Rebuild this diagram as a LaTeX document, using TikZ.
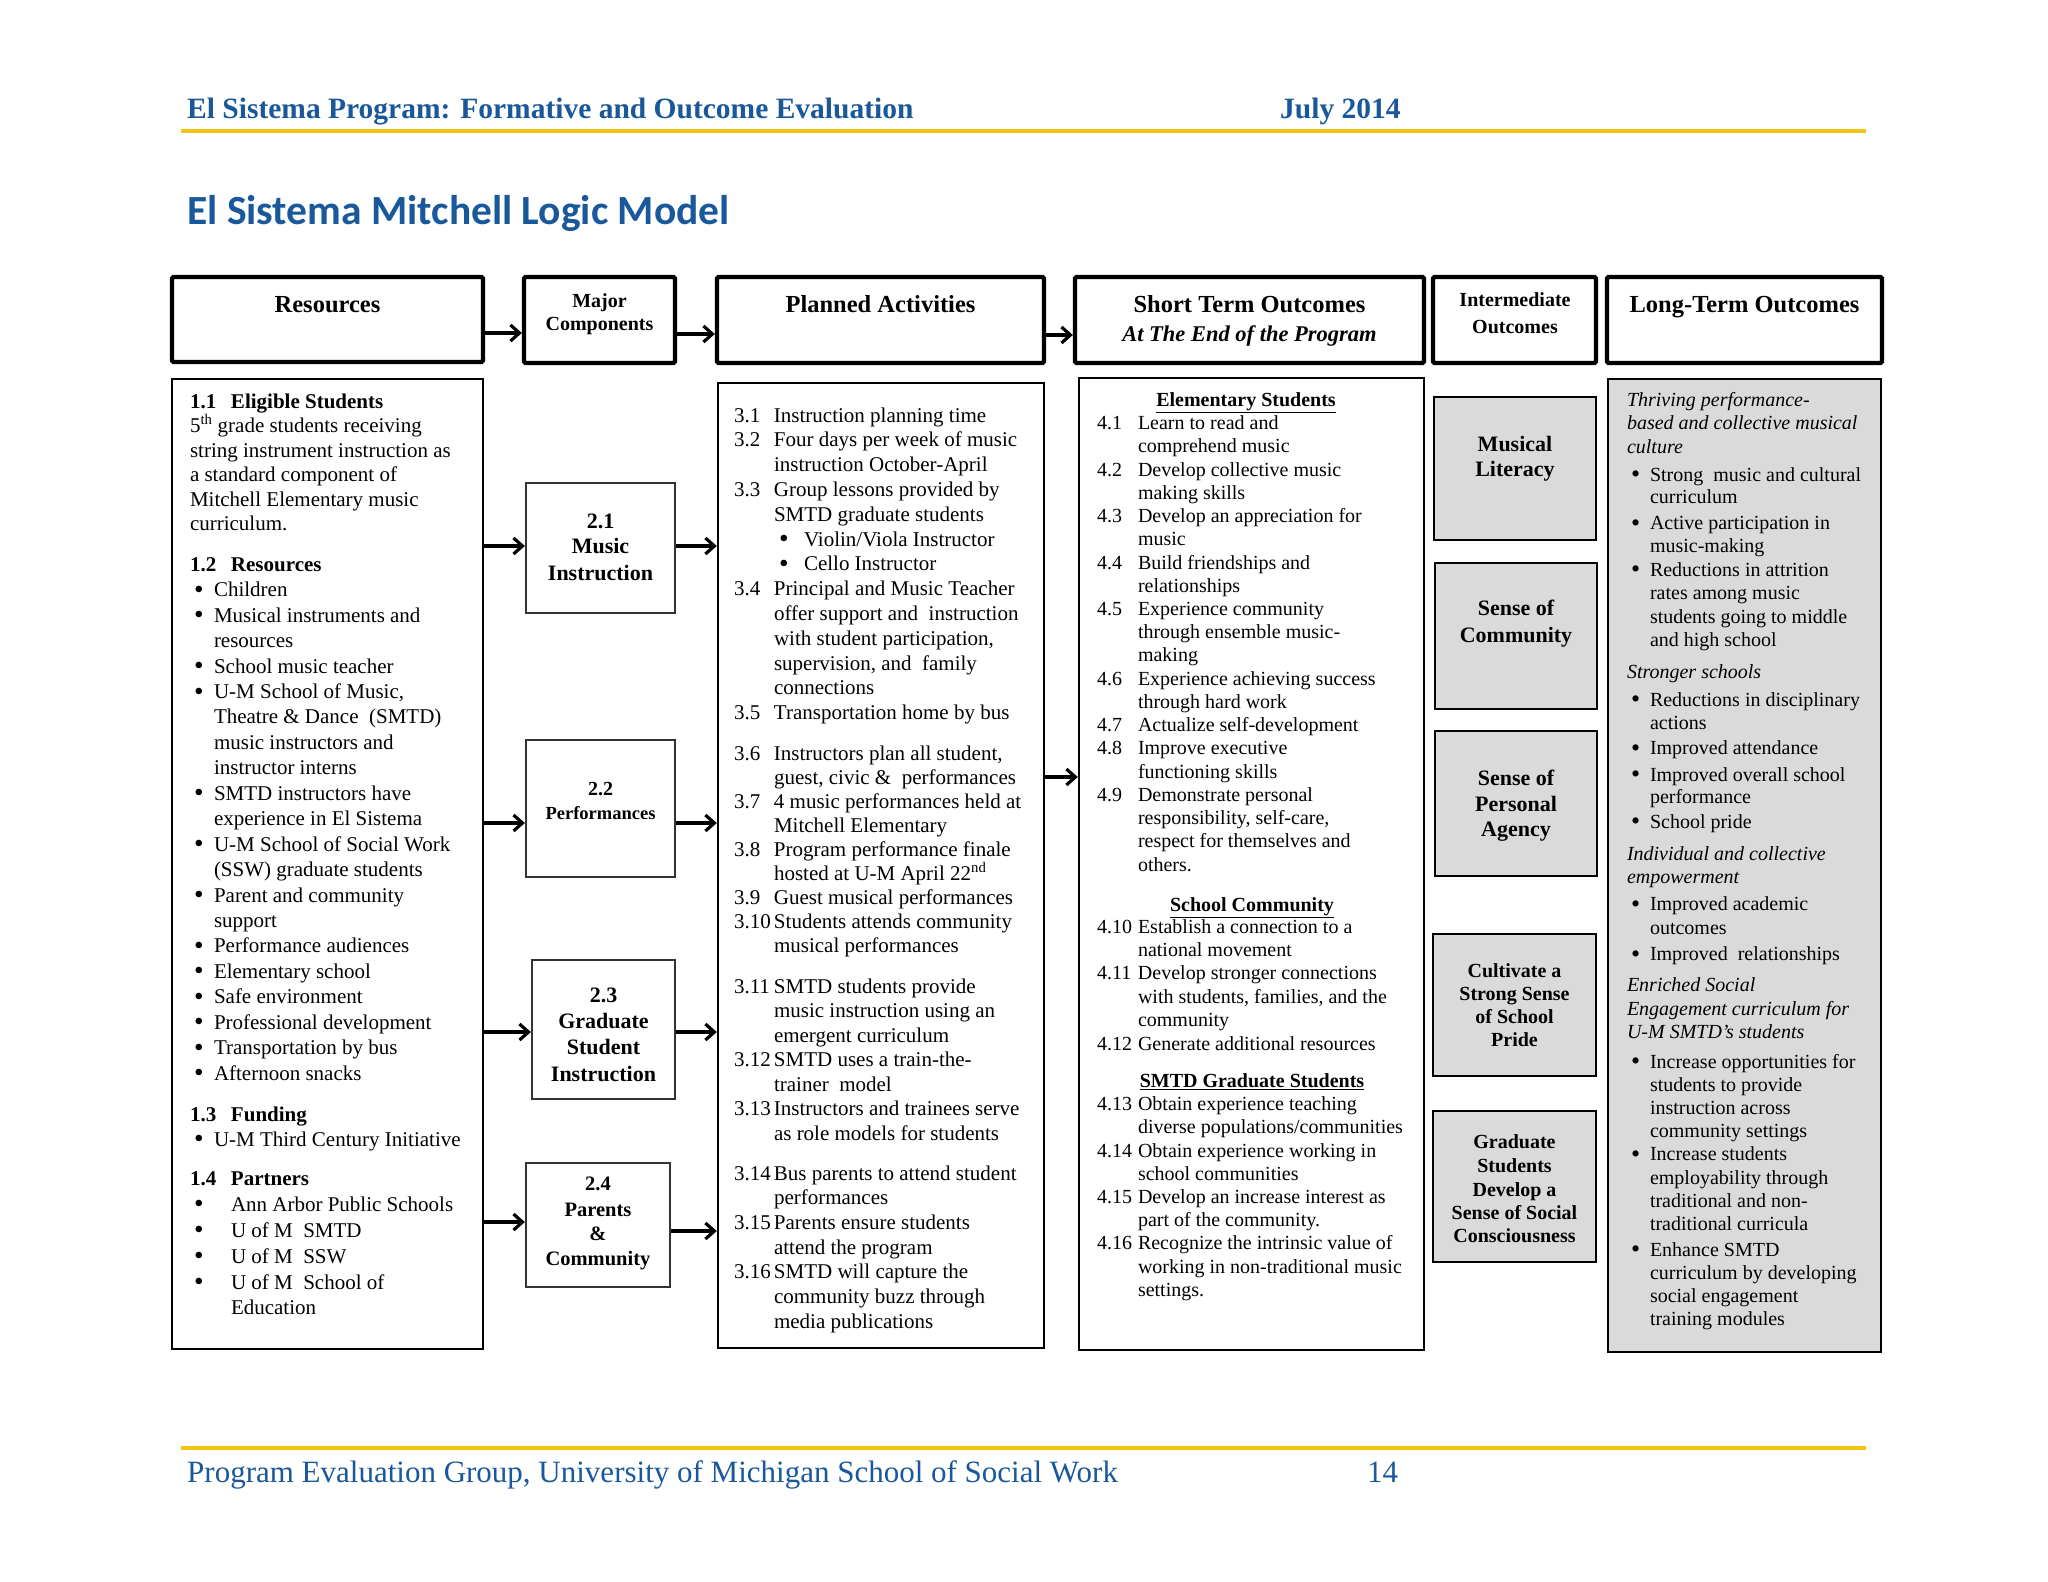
\documentclass[tikz,border=0pt]{standalone}
\usepackage{fontspec}
\setmainfont{Liberation Serif}
\newfontfamily\titlefont{Carlito}
\usetikzlibrary{arrows.meta}
\definecolor{hblue}{RGB}{25,88,155}
\definecolor{gold}{RGB}{243,196,18}
\definecolor{boxgray}{RGB}{218,218,218}
\newcounter{lnc}
\newcommand\fs[2]{\fontsize{#1}{#2}\selectfont}
\newcommand\bul[1]{\makebox[#1pt][l]{\raisebox{-0.08em}{\scalebox{1.3}{\textbullet}}}}
\newcommand\nm[2]{\makebox[#1pt][l]{#2}}
\newcommand\curf{}
\newcommand\tln[3]{\stepcounter{lnc}\node[txt] (ln\arabic{lnc}) at (#1,#2) {#3};}
\newcommand\tlc[3]{\stepcounter{lnc}\node[txtc] (ln\arabic{lnc}) at (#1,#2) {#3};}
\newcommand\rbox[6][]{\node[#1, minimum width={#5pt-#3pt}, minimum height={#6pt-#4pt}] (#2) at ({(#3+#5)/2},{(#4+#6)/2}) {};}
\tikzset{
 txt/.style={anchor=base west, inner sep=0pt, outer sep=0pt, font=\curf},
 txtc/.style={anchor=base, inner sep=0pt, outer sep=0pt, font=\curf},
 headbox/.style={draw, line width=4.3pt, rounded corners=1.5pt, inner sep=0pt},
 bodybox/.style={draw, line width=2.4pt, inner sep=0pt},
 compbox/.style={draw=black!80, line width=2.2pt, inner sep=0pt},
 graybox/.style={draw, fill=boxgray, line width=2.6pt, inner sep=0pt},
 longbox/.style={draw, fill=boxgray, line width=2.7pt, inner sep=0pt},
 arr/.style={line width=3.2pt, -{Straight Barb[length=9pt,width=16pt]}},
 goldrule/.style={draw=gold, line width=4pt},
}
\begin{document}
\begin{tikzpicture}[x=1pt,y=-1pt]
\useasboundingbox (0,0) rectangle (2048,1582);
\fill[white] (0,0) rectangle (2048,1582);
% page header and footer
\node[anchor=base west, inner sep=0pt, font=\fs{29.5}{34}\bfseries, text=hblue] (pghead) at (187,118) {El Sistema Program: Formative and Outcome Evaluation};
\node[anchor=base west, inner sep=0pt, font=\fs{29.5}{34}\bfseries, text=hblue] (pgdate) at (1280,118) {July 2014};
\path[goldrule] (181,131) -- (1866,131);
\node[anchor=base west, inner sep=0pt, font=\titlefont\bfseries\fs{41.5}{48}, text=hblue] (title) at (187,224) {El Sistema Mitchell Logic Model};
\path[goldrule] (181,1448) -- (1866,1448);
\node[anchor=base west, inner sep=0pt, font=\fs{31}{36}, text=hblue] (foot) at (187,1482) {Program Evaluation Group, University of Michigan School of Social Work};
\node[anchor=base west, inner sep=0pt, font=\fs{31}{36}, text=hblue] (pgnum) at (1367,1482) {14};

% header boxes
\rbox[headbox]{rh}{172}{277}{483}{362}
\rbox[headbox]{mh}{524}{277}{675}{363}
\rbox[headbox]{ph}{717}{277}{1044}{363}
\rbox[headbox]{sh}{1075}{277}{1424}{363}
\rbox[headbox]{ih}{1433}{277}{1596}{363}
\rbox[headbox]{lh}{1607}{277}{1882}{363}
% body boxes
\rbox[bodybox]{rb}{172}{379}{483}{1349}
\rbox[bodybox]{pb}{718}{383}{1044}{1348}
\rbox[bodybox]{sb}{1079}{378}{1424}{1350}
\rbox[longbox]{lb}{1608}{379}{1881}{1352}
\rbox[compbox]{c21}{526}{483}{675}{613}
\rbox[compbox]{c22}{526}{740}{675}{877}
\rbox[compbox]{c23}{532}{960}{675}{1099}
\rbox[compbox]{c24}{526}{1163}{670}{1287}
\rbox[graybox]{i1}{1434}{397}{1596}{540}
\rbox[graybox]{i2}{1435}{563}{1597}{709}
\rbox[graybox]{i3}{1435}{731}{1597}{876}
\rbox[graybox]{i4}{1433}{934}{1596}{1076}
\rbox[graybox]{i5}{1433}{1111}{1596}{1262}

% arrows
\coordinate (h1) at ([yshift=-13.5pt]rh.east);
\draw[arr] (h1) -- (mh.west |- h1);
\coordinate (h2) at ([yshift=-14pt]mh.east);
\draw[arr] (h2) -- (ph.west |- h2);
\coordinate (h3) at ([yshift=-15pt]ph.east);
\draw[arr] (h3) -- (sh.west |- h3);
\coordinate (a21) at ([yshift=2pt]c21.west);
\draw[arr] (rb.east |- a21) -- (a21);
\draw[arr] (c21.east |- a21) -- (pb.west |- a21);
\coordinate (a22) at ([yshift=-14.5pt]c22.west);
\draw[arr] (rb.east |- a22) -- (a22);
\draw[arr] (c22.east |- a22) -- (pb.west |- a22);
\coordinate (a23) at ([yshift=-2.5pt]c23.west);
\draw[arr] (rb.east |- a23) -- (a23);
\draw[arr] (c23.east |- a23) -- (pb.west |- a23);
\coordinate (a24) at ([yshift=3pt]c24.west);
\draw[arr] (rb.east |- a24) -- (a24);
\coordinate (b24) at ([yshift=-6pt]c24.east);
\draw[arr] (b24) -- (pb.west |- b24);
\coordinate (a3) at ([yshift=88.5pt]pb.east);
\draw[arr] (a3) -- (sb.west |- a3);

% header texts
\renewcommand\curf{\fs{24.5}{28}\bfseries}
\tlc{327.5}{312}{Resources}
\tlc{880.5}{312}{Planned Activities}
\tlc{1249.5}{312}{Short Term Outcomes}
\tlc{1249.5}{341.5}{\fs{22.5}{26}\itshape At The End of the Program}
\tlc{1744.5}{312}{Long-Term Outcomes}
\renewcommand\curf{\fs{20}{23}\bfseries}
\tlc{599.5}{307.7}{Major}
\tlc{599.5}{330.7}{Components}
\tlc{1515}{306}{Intermediate}
\tlc{1515}{333}{Outcomes}

% Resources column
\renewcommand\curf{\fs{21}{25}}
\tln{190}{408}{\textbf{\nm{41}{1.1}Eligible Students}}
\tln{190}{432.5}{5\textsuperscript{th} grade students receiving}
\tln{190}{457}{string instrument instruction as}
\tln{190}{481.5}{a standard component of}
\tln{190}{506}{Mitchell Elementary music}
\tln{190}{530.5}{curriculum.}
\tln{190}{571}{\textbf{\nm{41}{1.2}Resources}}
\tln{194}{596.7}{\bul{20}Children}
\tln{194}{622.1}{\bul{20}Musical instruments and}
\tln{214}{647.6}{resources}
\tln{194}{673.0}{\bul{20}School music teacher}
\tln{194}{698.5}{\bul{20}U-M School of Music,}
\tln{214}{723.9}{Theatre \& Dance\ \ (SMTD)}
\tln{214}{749.3}{music instructors and}
\tln{214}{774.8}{instructor interns}
\tln{194}{800.2}{\bul{20}SMTD instructors have}
\tln{214}{825.7}{experience in El Sistema}
\tln{194}{851.1}{\bul{20}U-M School of Social Work}
\tln{214}{876.5}{(SSW) graduate students}
\tln{194}{902.0}{\bul{20}Parent and community}
\tln{214}{927.4}{support}
\tln{194}{952.9}{\bul{20}Performance audiences}
\tln{194}{978.3}{\bul{20}Elementary school}
\tln{194}{1003.7}{\bul{20}Safe environment}
\tln{194}{1029.2}{\bul{20}Professional development}
\tln{194}{1054.6}{\bul{20}Transportation by bus}
\tln{194}{1080.0}{\bul{20}Afternoon snacks}
\tln{190}{1121}{\textbf{\nm{41}{1.3}Funding}}
\tln{194}{1146}{\bul{20}U-M Third Century Initiative}
\tln{190}{1185}{\textbf{\nm{41}{1.4}Partners}}
\tln{194}{1211}{\bul{37}Ann Arbor Public Schools}
\tln{194}{1237}{\bul{37}U of M\ \ SMTD}
\tln{194}{1263}{\bul{37}U of M\ \ SSW}
\tln{194}{1289}{\bul{37}U of M\ \ School of}
\tln{231}{1314}{Education}

% Major components
\renewcommand\curf{\fs{22}{26}\bfseries}
\tlc{600.5}{528}{2.1}
\tlc{600.5}{553}{Music}
\tlc{600.5}{580.5}{Instruction}
\tlc{600.5}{795}{\fs{20}{23}2.2}
\tlc{600.5}{819.5}{\fs{18.5}{22}Performances}
\tlc{603.5}{1002}{2.3}
\tlc{603.5}{1028.5}{Graduate}
\tlc{603.5}{1054.5}{Student}
\tlc{603.5}{1081}{Instruction}
\renewcommand\curf{\fs{20.5}{24}\bfseries}
\tlc{598}{1190}{2.4}
\tlc{598}{1216}{Parents}
\tlc{598}{1240}{\&}
\tlc{598}{1265.5}{Community}

% Planned activities
\renewcommand\curf{\fs{21}{25}}
\tln{734}{422}{\nm{40}{3.1}Instruction planning time}
\tln{734}{446.8}{\nm{40}{3.2}Four days per week of music}
\tln{774}{471.6}{instruction October-April}
\tln{734}{496.4}{\nm{40}{3.3}Group lessons provided by}
\tln{774}{521.2}{SMTD graduate students}
\tln{779}{546}{\bul{25}Violin/Viola Instructor}
\tln{779}{570.8}{\bul{25}Cello Instructor}
\tln{734}{595.6}{\nm{40}{3.4}Principal and Music Teacher}
\tln{774}{620.4}{offer support and\ \ instruction}
\tln{774}{645.2}{with student participation,}
\tln{774}{670}{supervision, and\ \ family}
\tln{774}{694.8}{connections}
\tln{734}{719.6}{\nm{40}{3.5}Transportation home by bus}
\tln{734}{760}{\nm{40}{3.6}Instructors plan all student,}
\tln{774}{784.1}{guest, civic \&\ \ performances}
\tln{734}{808.2}{\nm{40}{3.7}4 music performances held at}
\tln{774}{832.3}{Mitchell Elementary}
\tln{734}{856.4}{\nm{40}{3.8}Program performance finale}
\tln{774}{880.5}{hosted at U-M April 22\textsuperscript{nd}}
\tln{734}{904.6}{\nm{40}{3.9}Guest musical performances}
\tln{734}{928.7}{\nm{40}{3.10}Students attends community}
\tln{774}{952.8}{musical performances}
\tln{734}{993}{\nm{40}{3.11}SMTD students provide}
\tln{774}{1017.5}{music instruction using an}
\tln{774}{1042}{emergent curriculum}
\tln{734}{1066.5}{\nm{40}{3.12}SMTD uses a train-the-}
\tln{774}{1091}{trainer\ \ model}
\tln{734}{1115.5}{\nm{40}{3.13}Instructors and trainees serve}
\tln{774}{1140}{as role models for students}
\tln{734}{1180}{\nm{40}{3.14}Bus parents to attend student}
\tln{774}{1204.7}{performances}
\tln{734}{1229.4}{\nm{40}{3.15}Parents ensure students}
\tln{774}{1254.1}{attend the program}
\tln{734}{1278.8}{\nm{40}{3.16}SMTD will capture the}
\tln{774}{1303.5}{community buzz through}
\tln{774}{1328.2}{media publications}

% Short term outcomes
\renewcommand\curf{\fs{20}{23}}
\tlc{1246}{406}{\textbf{\underline{Elementary Students}}}
\tln{1097}{429.6}{\nm{41}{4.1}Learn to read and}
\tln{1138}{452.8}{comprehend music}
\tln{1097}{476.1}{\nm{41}{4.2}Develop collective music}
\tln{1138}{499.3}{making skills}
\tln{1097}{522.5}{\nm{41}{4.3}Develop an appreciation for}
\tln{1138}{545.8}{music}
\tln{1097}{569.0}{\nm{41}{4.4}Build friendships and}
\tln{1138}{592.2}{relationships}
\tln{1097}{615.4}{\nm{41}{4.5}Experience community}
\tln{1138}{638.7}{through ensemble music-}
\tln{1138}{661.9}{making}
\tln{1097}{685.1}{\nm{41}{4.6}Experience achieving success}
\tln{1138}{708.4}{through hard work}
\tln{1097}{731.6}{\nm{41}{4.7}Actualize self-development}
\tln{1097}{754.8}{\nm{41}{4.8}Improve executive}
\tln{1138}{778.1}{functioning skills}
\tln{1097}{801.3}{\nm{41}{4.9}Demonstrate personal}
\tln{1138}{824.5}{responsibility, self-care,}
\tln{1138}{847.8}{respect for themselves and}
\tln{1138}{871}{others.}
\tlc{1252}{911}{\textbf{\underline{School Community}}}
\tln{1097}{933}{\nm{41}{4.10}Establish a connection to a}
\tln{1138}{956.4}{national movement}
\tln{1097}{979.8}{\nm{41}{4.11}Develop stronger connections}
\tln{1138}{1003.2}{with students, families, and the}
\tln{1138}{1026.6}{community}
\tln{1097}{1050}{\nm{41}{4.12}Generate additional resources}
\tlc{1252}{1087.5}{\textbf{\underline{SMTD Graduate Students}}}
\tln{1097}{1110.7}{\nm{41}{4.13}Obtain experience teaching}
\tln{1138}{1133.9}{diverse populations/communities}
\tln{1097}{1157.1}{\nm{41}{4.14}Obtain experience working in}
\tln{1138}{1180.3}{school communities}
\tln{1097}{1203.4}{\nm{41}{4.15}Develop an increase interest as}
\tln{1138}{1226.6}{part of the community.}
\tln{1097}{1249.8}{\nm{41}{4.16}Recognize the intrinsic value of}
\tln{1138}{1273}{working in non-traditional music}
\tln{1138}{1296.2}{settings.}

% Intermediate outcomes
\renewcommand\curf{\fs{22}{26}\bfseries}
\tlc{1515}{451}{Musical}
\tlc{1515}{476.5}{Literacy}
\tlc{1516}{615}{Sense of}
\tlc{1516}{642}{Community}
\tlc{1516}{785}{Sense of}
\tlc{1516}{811}{Personal}
\tlc{1516}{836.5}{Agency}
\renewcommand\curf{\fs{20}{23}\bfseries}
\tlc{1514.5}{977}{Cultivate a}
\tlc{1514.5}{1000.7}{Strong Sense}
\tlc{1514.5}{1023.5}{of School}
\tlc{1514.5}{1046}{Pride}
\tlc{1514.5}{1148}{Graduate}
\tlc{1514.5}{1172}{Students}
\tlc{1514.5}{1196}{Develop a}
\tlc{1514.5}{1219}{Sense of Social}
\tlc{1514.5}{1242}{Consciousness}

% Long-term outcomes
\renewcommand\curf{\fs{20}{23}}
\tln{1627}{406}{\textit{Thriving performance-}}
\tln{1627}{429.6}{\textit{based and collective musical}}
\tln{1627}{453}{\textit{culture}}
\tln{1631}{481}{\bul{19}Strong\ \ music and cultural}
\tln{1650}{503.5}{curriculum}
\tln{1631}{529.6}{\bul{19}Active participation in}
\tln{1650}{552}{music-making}
\tln{1631}{576}{\bul{19}Reductions in attrition}
\tln{1650}{599}{rates among music}
\tln{1650}{623}{students going to middle}
\tln{1650}{646}{and high school}
\tln{1627}{678}{\textit{Stronger schools}}
\tln{1631}{706}{\bul{19}Reductions in disciplinary}
\tln{1650}{729.6}{actions}
\tln{1631}{754.6}{\bul{19}Improved attendance}
\tln{1631}{781}{\bul{19}Improved overall school}
\tln{1650}{803.5}{performance}
\tln{1631}{828}{\bul{19}School pride}
\tln{1627}{860}{\textit{Individual and collective}}
\tln{1627}{883}{\textit{empowerment}}
\tln{1631}{910.7}{\bul{19}Improved academic}
\tln{1650}{934}{outcomes}
\tln{1631}{960.7}{\bul{19}Improved\ \ relationships}
\tln{1627}{991}{\textit{Enriched Social}}
\tln{1627}{1015}{\textit{Engagement curriculum for}}
\tln{1627}{1038.6}{\textit{U-M SMTD’s students}}
\tln{1631}{1068}{\bul{19}Increase opportunities for}
\tln{1650}{1091}{students to provide}
\tln{1650}{1114}{instruction across}
\tln{1650}{1137.5}{community settings}
\tln{1631}{1160.7}{\bul{19}Increase students}
\tln{1650}{1184}{employability through}
\tln{1650}{1207}{traditional and non-}
\tln{1650}{1230}{traditional curricula}
\tln{1631}{1256}{\bul{19}Enhance SMTD}
\tln{1650}{1279}{curriculum by developing}
\tln{1650}{1302}{social engagement}
\tln{1650}{1325}{training modules}
\end{tikzpicture}
\end{document}
